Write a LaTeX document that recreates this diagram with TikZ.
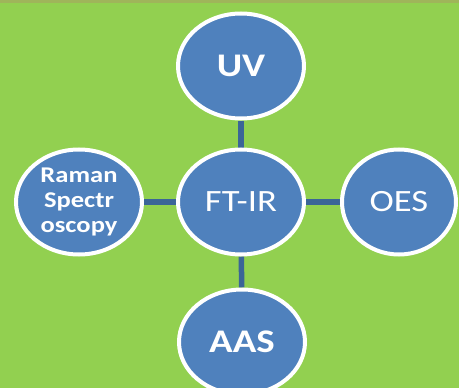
\documentclass[tikz,border=0pt]{standalone}
\usepackage{fontspec}
\setmainfont{Carlito}
\usetikzlibrary{shapes.geometric,backgrounds}
\definecolor{bggreen}{HTML}{92D050}
\definecolor{topolive}{HTML}{9FB55A}
\definecolor{circblue}{HTML}{4F81BD}
\definecolor{linkblue}{HTML}{3B6597}
\tikzset{
  bubble/.style={ellipse, draw=white, line width=4pt, fill=circblue, text=white,
    minimum width=126pt, minimum height=105pt, inner sep=0pt, align=center},
  bigbold/.style={font=\fontsize{33}{36}\selectfont\bfseries},
  bigreg/.style={font=\fontsize{31}{36}\selectfont},
  smallbold/.style={font=\fontsize{22.5}{25}\selectfont\bfseries},
  link/.style={draw=linkblue, line width=5.5pt}
}
\newcommand{\hs}[1]{\scalebox{1.18}[1]{#1}}
\begin{document}
\begin{tikzpicture}[x=1pt,y=-1pt]
\useasboundingbox (0,0) rectangle (459,388);
\clip (0,0) rectangle (459,388);
\node[bubble,bigbold] (uv) at (241,66) {\hs{UV}};
\node[bubble,bigreg] (ft) at (241,202) {\hs{FT-IR}};
\node[bubble,smallbold] (raman) at (79,202) {\hs{Raman}\\\hs{Spectr}\\\hs{oscopy}};
\node[bubble,bigreg,minimum width=114pt] (oes) at (399,202) {\hs{OES}};
\node[bubble,bigbold] (aas) at (242,342) {\hs{AAS}};
\begin{scope}[on background layer]
\fill[bggreen] (0,0) rectangle (459,388);
\fill[topolive] (0,0) rectangle (459,2.5);
\draw[link] (uv) -- (ft);
\draw[link] (ft) -- (aas);
\draw[link] (raman) -- (ft);
\draw[link] (ft) -- (oes);
\end{scope}
\end{tikzpicture}
\end{document}
